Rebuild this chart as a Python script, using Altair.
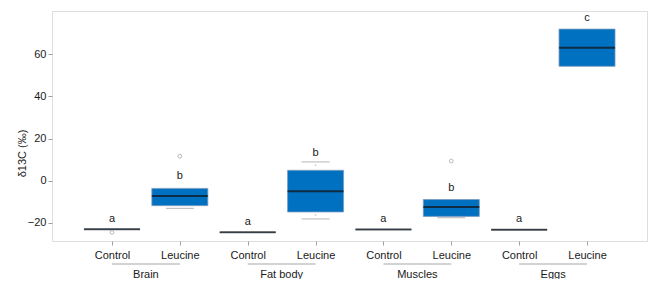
import altair as alt
import pandas as pd

# ---- data ----
positions = [1, 2, 3, 4, 5, 6, 7, 8]
tissues = ["Brain", "Brain", "Fat body", "Fat body", "Muscles", "Muscles", "Eggs", "Eggs"]
treatments = ["Control", "Leucine"] * 4
q1 = [-23.1, -11.9, -24.6, -14.9, -23.2, -17.0, -23.3, 54.3]
q3 = [-23.1, -3.7, -24.6, 4.9, -23.2, -9.0, -23.3, 72.0]
medians = [-23.1, -7.3, -24.6, -5.1, -23.2, -12.5, -23.3, 63.1]
letters = ["a", "b", "a", "b", "a", "b", "a", "c"]
letter_y = [-19.7, 1.0, -20.9, 11.5, -19.9, -5.1, -19.9, 75.7]

cap_pos = [2, 4, 4, 6]
cap_val = [-13.2, 8.9, -18.2, -17.6]
stem_pos = [4, 4]
stem_val = [7.3, -16.3]
out_pos = [1, 2, 6]
out_val = [-24.6, 11.6, 9.3]

group_names = ["Brain", "Fat body", "Muscles", "Eggs"]
group_start = [1, 3, 5, 7]
group_end = [2, 4, 6, 8]

boxes = pd.DataFrame({"pos": positions, "tissue": tissues, "treat": treatments,
                      "q1": q1, "q3": q3, "med": medians,
                      "letter": letters, "ly": letter_y})
caps = pd.DataFrame({"pos": cap_pos, "val": cap_val})
stems = pd.DataFrame({"pos": stem_pos, "val": stem_val})
outs = pd.DataFrame({"pos": out_pos, "val": out_val})
groups = pd.DataFrame({"name": group_names, "start": group_start, "end": group_end})
groups["mid"] = (groups["start"] + groups["end"]) / 2

FONT = "Liberation Sans"
xscale = alt.Scale(domain=[0.19, 8.81], nice=False, zero=False)
yscale = alt.Scale(domain=[-28.7, 80.6], nice=False, zero=False)

label_expr = "datum.value % 2 == 1 ? 'Control' : 'Leucine'"

x_axis = alt.Axis(values=positions, labelExpr=label_expr, title=None, grid=False,
                  domain=False, tickColor="#a0a0a0", tickSize=4, labelPadding=4,
                  labelFont=FONT, labelFontSize=11, labelColor="#1a1a1a")
y_axis = alt.Axis(values=[-20, 0, 20, 40, 60], title="δ13C  (‰)", grid=False,
                  domain=False, tickColor="#a0a0a0", tickSize=4, labelPadding=2,
                  labelFont=FONT, labelFontSize=11, labelColor="#1a1a1a",
                  titleFont=FONT, titleFontSize=11, titleFontWeight="normal",
                  titleColor="#1a1a1a", titleX=-30, titleY=142,
                  titleAlign="center", titleBaseline="middle", titleAngle=270)

base = alt.Chart(boxes)

bars = base.mark_bar(size=56, color="#0070C0", stroke="#7a9cc0", strokeWidth=0.8).encode(
    x=alt.X("pos:Q", scale=xscale, axis=x_axis),
    y=alt.Y("q1:Q", scale=yscale, axis=y_axis),
    y2="q3:Q",
)

meds = base.mark_tick(orient="horizontal", size=56, thickness=2, color="#111111").encode(
    x=alt.X("pos:Q", scale=xscale),
    y=alt.Y("med:Q", scale=yscale),
)

cap_marks = alt.Chart(caps).mark_tick(orient="horizontal", size=28, thickness=1.2,
                                      color="#a8a8a8").encode(
    x=alt.X("pos:Q", scale=xscale),
    y=alt.Y("val:Q", scale=yscale),
)

stem_marks = alt.Chart(stems).mark_point(shape="square", size=2, filled=True,
                                         color="#a8a8a8").encode(
    x=alt.X("pos:Q", scale=xscale),
    y=alt.Y("val:Q", scale=yscale),
)

out_marks = alt.Chart(outs).mark_point(shape="circle", size=14, filled=False,
                                       color="#909090", strokeWidth=0.9).encode(
    x=alt.X("pos:Q", scale=xscale),
    y=alt.Y("val:Q", scale=yscale),
)

letter_marks = base.mark_text(font=FONT, fontSize=11, baseline="alphabetic",
                              color="#1a1a1a").encode(
    x=alt.X("pos:Q", scale=xscale),
    y=alt.Y("ly:Q", scale=yscale),
    text="letter:N",
)

g_rules = alt.Chart(groups).mark_rule(color="#a8a8a8", strokeWidth=1.2).encode(
    x=alt.X("start:Q", scale=xscale),
    x2="end:Q",
    y=alt.value(253),
)

g_text = alt.Chart(groups).mark_text(font=FONT, fontSize=11, baseline="alphabetic",
                                     color="#1a1a1a").encode(
    x=alt.X("mid:Q", scale=xscale),
    y=alt.value(267),
    text="name:N",
)

chart = alt.layer(bars, cap_marks, stem_marks, meds, out_marks, letter_marks,
                  g_rules, g_text).properties(
    width=595, height=230,
    padding={"left": 44, "top": 3, "right": 1, "bottom": 38},
    autosize=alt.AutoSizeParams(type="none"),
).configure_view(stroke="#b4b4b4", strokeWidth=1.5).configure(background="white")

chart.save("out.html", embed_options={"renderer": "svg", "actions": False})
